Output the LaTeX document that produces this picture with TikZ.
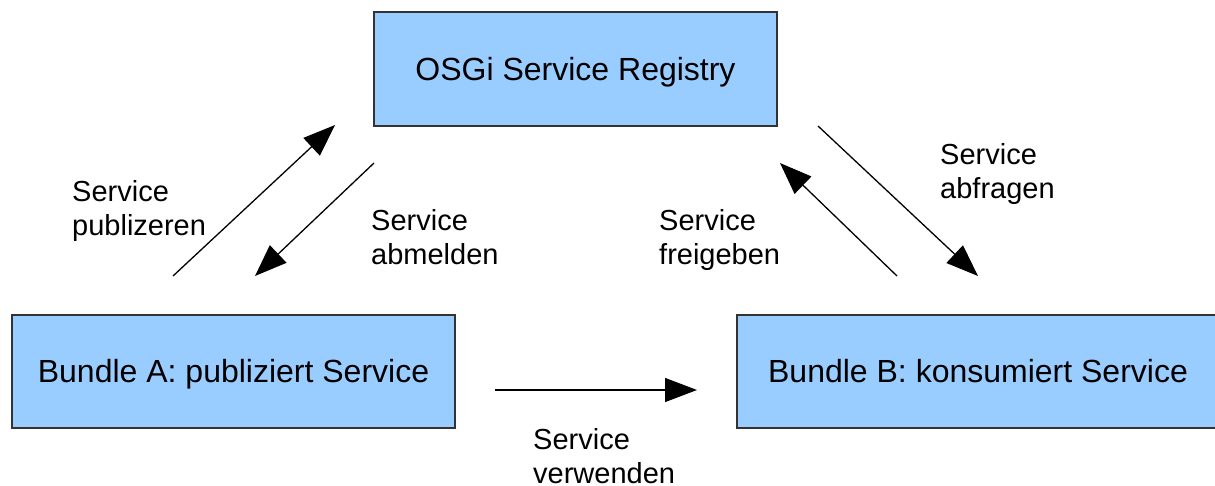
\documentclass[tikz,border=0pt]{standalone}
\usepackage{fontspec}
\setmainfont{Liberation Sans}
\usetikzlibrary{arrows.meta}
\definecolor{boxblue}{HTML}{99CCFF}
\definecolor{boxline}{HTML}{333333}
\begin{document}
\begin{tikzpicture}[x=1pt,y=-1pt,
  bundlebox/.style={draw=boxline, line width=1.5pt, fill=boxblue, inner sep=0pt},
  boxtext/.style={anchor=base, inner sep=0pt, font=\fontsize{32}{36}\selectfont},
  flow/.style={line width=1.3pt, -{Triangle[length=32pt,width=24pt]}},
  caption/.style={anchor=north west, inner sep=0pt, align=left,
    font=\fontsize{29}{34}\selectfont}]
\useasboundingbox (0,0) rectangle (1215,485);

% components
\node[bundlebox, minimum width=403pt, minimum height=114pt] (reg) at (575.5,69) {};
\node[bundlebox, minimum width=443pt, minimum height=113pt] (bA) at (233.5,371.5) {};
\node[bundlebox, minimum width=482pt, minimum height=113pt] (bB) at (978,371.5) {};
\node[boxtext] (regtxt) at ([yshift=-11pt]reg.center) {OSGi Service Registry};
\node[boxtext] (bAtxt) at ([yshift=-10.5pt]bA.center) {Bundle A: publiziert Service};
\node[boxtext] (bBtxt) at ([yshift=-10.5pt]bB.center) {Bundle B: konsumiert Service};

% arrow end points
\coordinate (pubS) at (173,276);  \coordinate (pubE) at (335,125);
\coordinate (abmS) at (374,163);  \coordinate (abmE) at (255,276);
\coordinate (freS) at (897,276);  \coordinate (freE) at (780,163);
\coordinate (abfS) at (818,126);  \coordinate (abfE) at (978,276);
\coordinate (useS) at (495,390);  \coordinate (useE) at (697,390);

\draw[flow] (pubS) -- (pubE);
\draw[flow] (abmS) -- (abmE);
\draw[flow] (freS) -- (freE);
\draw[flow] (abfS) -- (abfE);
\draw[flow] (useS) -- (useE);

% captions
\node[caption] (cpub) at (72,180) {Service\\publizeren};
\node[caption] (cabm) at (371,209) {Service\\abmelden};
\node[caption] (cfre) at (659,209) {Service\\freigeben};
\node[caption] (cabf) at (940,143) {Service\\abfragen};
\node[caption] (cuse) at (533,428) {Service\\verwenden};
\end{tikzpicture}
\end{document}
